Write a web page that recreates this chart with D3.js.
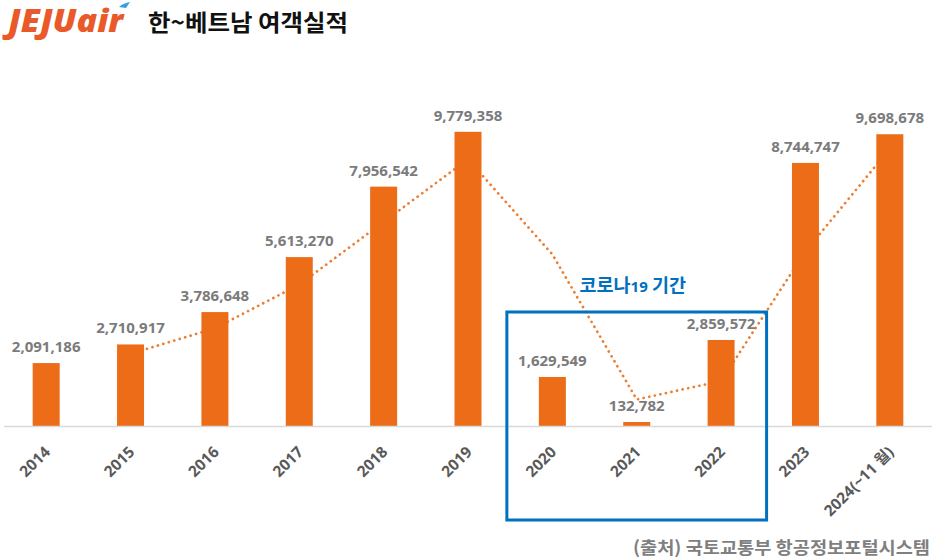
<!DOCTYPE html>
<html><head><meta charset="utf-8">
<script src="https://cdn.jsdelivr.net/npm/d3@7/dist/d3.min.js"></script>
<style>
body{margin:0;background:#fff;}
svg{display:block;font-family:"Noto Sans","Noto Sans CJK KR",sans-serif;}
</style></head>
<body>
<svg id="c" width="942" height="560"></svg>
<script>
const categories = ["2014","2015","2016","2017","2018","2019","2020","2021","2022","2023","2024(~11 월)"];
const passengers = [2091186,2710917,3786648,5613270,7956542,9779358,1629549,132782,2859572,8744747,9698678];
const covidYears = ["2020","2021","2022"];
const titleText = "한~베트남 여객실적";
const logoText = "JEJUair";
const covidLabel = ["코로나", "19", " 기간"];
const sourceText = "(출처) 국토교통부 항공정보포털시스템";

const svg = d3.select("#c");
const baseY = 426;
const x = d3.scaleBand().domain(categories).range([4, 932]).paddingInner(0.68).paddingOuter(0.34);
const y = d3.scaleLinear().domain([0, 12000000]).range([baseY, 65]);

const data = categories.map((c, i) => ({c, v: passengers[i]}));
// 2-period moving average trendline
const ma = data.slice(1).map((d, i) => ({c: d.c, v: (data[i].v + d.v) / 2}));

// trendline (behind bars)
svg.append("path")
  .datum(ma)
  .attr("fill", "none")
  .attr("stroke", "#ed7d31")
  .attr("stroke-width", 2.7)
  .attr("stroke-linecap", "round")
  .attr("stroke-dasharray", "0.1 5.6")
  .attr("d", d3.line().x(d => x(d.c) + x.bandwidth()/2).y(d => y(d.v)));

// bars
svg.append("g").selectAll("rect").data(data).join("rect")
  .attr("x", d => x(d.c))
  .attr("width", x.bandwidth())
  .attr("y", d => y(d.v))
  .attr("height", d => baseY - y(d.v))
  .attr("fill", "#ec6c17");

// baseline
svg.append("line").attr("x1", 4).attr("x2", 932).attr("y1", baseY + 0.5).attr("y2", baseY + 0.5)
  .attr("stroke", "#d9d9d9").attr("stroke-width", 1.3);

// value labels
svg.append("g").selectAll("text").data(data).join("text")
  .attr("x", d => x(d.c) + x.bandwidth()/2)
  .attr("y", d => y(d.v) - 11)
  .attr("text-anchor", "middle")
  .attr("font-size", 15)
  .attr("font-weight", "bold")
  .attr("fill", "#7b7b7b")
  .text(d => d3.format(",")(d.v));

// x axis labels
const xa = svg.append("g").attr("transform", `translate(0,${baseY})`)
  .call(d3.axisBottom(x).tickSize(0).tickPadding(0));
xa.select(".domain").remove();
xa.selectAll("text")
  .attr("font-family", '"Noto Sans","Noto Sans CJK KR",sans-serif')
  .attr("font-size", 15.5)
  .attr("font-weight", "bold")
  .attr("fill", "#595959")
  .attr("text-anchor", "end")
  .attr("y", 0)
  .attr("dy", null)
  .attr("transform", "translate(5,27) rotate(-45)");

// covid box
const bx0 = x(covidYears[0]) - 32, bx1 = x(covidYears[2]) + x.bandwidth() + 32;
svg.append("rect").attr("x", bx0).attr("y", 312).attr("width", bx1 - bx0).attr("height", 208)
  .attr("fill", "none").attr("stroke", "#0070c0").attr("stroke-width", 3);
const cl = svg.append("text").attr("x", x("2021") + x.bandwidth()/2 - 4).attr("y", 292)
  .attr("text-anchor", "middle").attr("font-weight", "bold").attr("fill", "#0070c0").attr("font-size", 18.5);
cl.append("tspan").attr("font-family", '"Noto Sans CJK KR",sans-serif').text(covidLabel[0]);
cl.append("tspan").attr("font-size", 15).text(covidLabel[1]);
cl.append("tspan").attr("font-family", '"Noto Sans CJK KR",sans-serif').text(covidLabel[2]);

// logo
svg.append("text").attr("transform", "translate(8,32) scale(1.1,1)")
  .attr("font-family", '"Open Sans","Noto Sans",sans-serif')
  .attr("font-style", "italic").attr("font-weight", 800)
  .attr("font-size", 31)
  .attr("fill", "#e9592a").text(logoText);
svg.append("path").attr("d", "M119,7 C122,4 126,3 130,2 L126,8 Z").attr("fill", "#3aa0d8");

// title
svg.append("text").attr("x", 148).attr("y", 31)
  .attr("font-family", '"Noto Sans CJK KR",sans-serif')
  .attr("font-weight", "bold").attr("font-size", 23).attr("fill", "#111")
  .attr("textLength", 200).attr("lengthAdjust", "spacingAndGlyphs")
  .text(titleText);

// source
svg.append("text").attr("x", 930).attr("y", 554).attr("text-anchor", "end")
  .attr("font-family", '"Noto Sans CJK KR",sans-serif')
  .attr("font-weight", "bold").attr("font-size", 17.5).attr("fill", "#7f7f7f")
  .attr("textLength", 297).attr("lengthAdjust", "spacingAndGlyphs")
  .text(sourceText);
</script>
</body></html>
